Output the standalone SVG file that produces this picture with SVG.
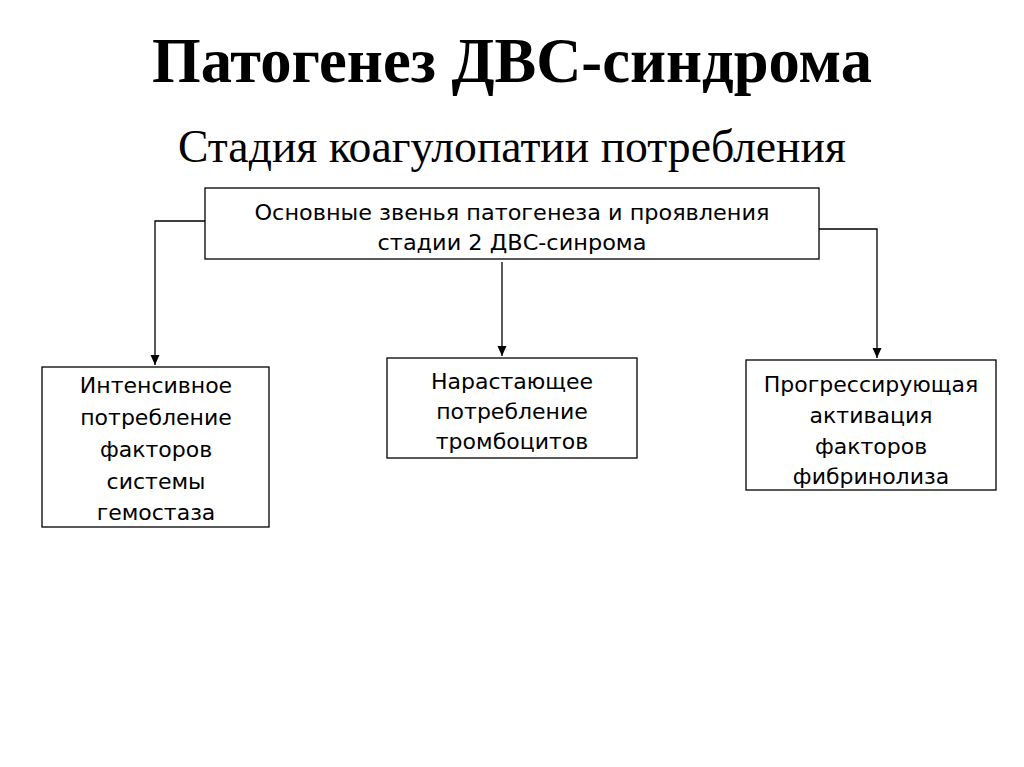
<svg xmlns="http://www.w3.org/2000/svg" width="1024" height="767" viewBox="0 0 1024 767">
<defs>
<marker id="arr" markerWidth="12" markerHeight="12" refX="10" refY="5.5" orient="auto" markerUnits="userSpaceOnUse">
<path d="M0,1 L10,5.5 L0,10 Z" fill="#000"/>
</marker>
<style>
.box{fill:#fff;stroke:#000;stroke-width:1.3}
.t{font-family:"DejaVu Sans","Liberation Sans",sans-serif;font-size:22px;text-anchor:middle;fill:#000}
.s{font-size:22px}
.conn{fill:none;stroke:#000;stroke-width:1.3}
</style>
</defs>
<rect width="1024" height="767" fill="#fff"/>
<text x="512" y="82" font-family="Liberation Serif,serif" font-weight="bold" font-size="64" text-anchor="middle" textLength="720" lengthAdjust="spacingAndGlyphs">Патогенез ДВС-синдрома</text>
<text x="512" y="162" font-family="Liberation Serif,serif" font-size="47" text-anchor="middle" textLength="668" lengthAdjust="spacingAndGlyphs">Стадия коагулопатии потребления</text>
<g id="connectors">
<path class="conn" d="M205,221 H155 V365" marker-end="url(#arr)"/>
<path class="conn" d="M502,262 V356" marker-end="url(#arr)"/>
<path class="conn" d="M819,229 H877 V358" marker-end="url(#arr)"/>
</g>
<g id="top">
<rect class="box" x="205" y="188" width="614" height="71"/>
<text class="t s" x="512" y="220" textLength="515" lengthAdjust="spacingAndGlyphs">Основные звенья патогенеза и проявления</text>
<text class="t s" x="512" y="250" textLength="269" lengthAdjust="spacingAndGlyphs">стадии 2 ДВС-синрома</text>
</g>
<g id="left">
<rect class="box" x="42" y="367" width="227" height="160"/>
<text class="t" x="156" y="393">Интенсивное</text>
<text class="t" x="156" y="425">потребление</text>
<text class="t" x="156" y="457">факторов</text>
<text class="t" x="156" y="489">системы</text>
<text class="t" x="156" y="520">гемостаза</text>
</g>
<g id="middle">
<rect class="box" x="387" y="358" width="250" height="100"/>
<text class="t" x="512" y="389">Нарастающее</text>
<text class="t" x="512" y="419">потребление</text>
<text class="t" x="512" y="449">тромбоцитов</text>
</g>
<g id="right">
<rect class="box" x="746" y="360" width="250" height="130"/>
<text class="t" x="871" y="392">Прогрессирующая</text>
<text class="t" x="871" y="423">активация</text>
<text class="t" x="871" y="454">факторов</text>
<text class="t" x="871" y="484">фибринолиза</text>
</g>
</svg>
